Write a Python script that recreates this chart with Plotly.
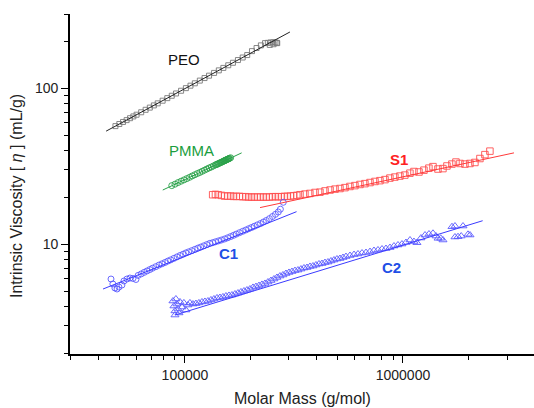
import math
import plotly.graph_objects as go

# ---------------- data ----------------
PEO_M = [48000, 50000, 52000, 54000, 56000, 58000, 60000, 63000, 66000, 69000, 72000, 75000,
         79000, 83000, 87000, 91000, 96000, 101000, 106000, 111000, 117000, 123000, 129000,
         136000, 143000, 150000, 158000, 166000, 175000, 184000, 193000, 203000, 213000,
         223000, 233000, 240000, 245000, 247000, 254000, 255000, 260000, 264000, 265000]
PEO_eta = [57.3, 59.1, 60.9, 62.6, 64.4, 66.1, 67.8, 70.3, 72.9, 75.3, 77.8, 80.2,
           83.4, 86.6, 89.7, 92.8, 96.6, 100.4, 104.1, 107.8, 112.2, 116.5, 120.7,
           125.7, 130.5, 135.3, 140.7, 146.0, 152.0, 157.8, 163.6, 173.4, 181.5,
           188.8, 195.2, 196.0, 190.0, 197.0, 197.5, 192.0, 197.0, 196.0, 195.0]
PEO_fit_M = [43500, 303000]
PEO_fit_eta = [53.2, 230.0]

PMMA_M = [87000, 90000, 93000, 96000, 99000, 102000, 105000, 108000, 111000, 114000, 117000,
          120000, 123000, 126000, 129000, 132000, 135000, 138000, 139500, 141000, 142500,
          144000, 145500, 147000, 148500, 150000, 151000, 152000, 153000, 154000, 155000,
          156000, 157000, 158000, 159000, 160000, 162000]
PMMA_eta = [23.8, 24.3, 24.9, 25.4, 25.9, 26.4, 26.9, 27.45, 27.95, 28.45, 28.9,
            29.4, 29.9, 30.4, 30.9, 31.3, 31.8, 32.3, 32.5, 32.7, 32.95,
            33.2, 33.4, 33.6, 33.85, 34.1, 34.25, 34.4, 34.55, 34.7, 34.85,
            35.0, 35.15, 35.3, 35.45, 35.6, 35.9]
PMMA_fit_M = [79100, 182000]
PMMA_fit_eta = [22.3, 38.6]

S1_M = [134000, 138000, 142000, 147000, 152000, 157000, 162000, 167000, 172000, 178000,
        184000, 190000, 196000, 202000, 208000, 215000, 222000, 229000, 236000, 244000,
        252000, 260000, 268000, 277000, 286000, 295000, 305000, 315000, 326000, 337000,
        355000, 374000, 395000, 416000, 439000, 463000, 488000, 514000, 542000, 571000,
        602000, 635000, 669000, 706000, 744000, 784000, 827000, 871000, 918000, 968000,
        1020000, 1076000, 1123000, 1184000, 1248000, 1315000, 1373000, 1447000, 1525000,
        1591000, 1677000, 1750000, 1825000, 1924000, 2028000, 2138000, 2254000, 2376000,
        2505000]
S1_eta = [20.8, 20.9, 20.8, 20.6, 20.4, 20.4, 20.4, 20.3, 20.3, 20.3,
          20.2, 20.2, 20.1, 20.1, 20.1, 20.1, 20.1, 20.1, 20.1, 20.1,
          20.2, 20.2, 20.2, 20.2, 20.3, 20.3, 20.4, 20.5, 20.6, 20.8,
          21.0, 21.2, 21.5, 21.6, 22.0, 22.3, 22.6, 22.8, 23.1, 23.5,
          23.8, 24.2, 24.5, 24.9, 25.3, 25.6, 26.0, 26.6, 27.0, 27.4,
          27.8, 28.6, 29.3, 29.1, 29.9, 30.8, 31.5, 30.4, 30.6,
          31.8, 32.7, 33.7, 33.0, 32.7, 33.0, 33.5, 35.5, 37.6,
          39.6]
S1_fit_M = [221000, 3230000]
S1_fit_eta = [17.2, 38.6]

C1_M = [45800, 46700, 47700, 48800, 49800, 51400, 52500, 54200, 55950, 57750, 59600,
        61000, 63000, 65000, 67000, 69000, 71000, 73500, 76000, 78500, 81000, 83500, 86000,
        89000, 92000, 95000, 98000, 101000, 104000, 107500, 111000, 114500, 118000, 122000,
        126000, 130000, 134000, 138000, 142500, 147000, 152000, 157000, 162000, 167000,
        172000, 178000, 184000, 190000, 196000, 202000, 208000, 215000, 222000, 229000,
        236000, 244000, 252000, 260000, 268000, 274000, 282500]
C1_eta = [5.99, 5.57, 5.25, 5.17, 5.32, 5.48, 5.82, 5.99, 6.08, 6.04, 5.95,
          6.32, 6.46, 6.61, 6.75, 6.89, 7.03, 7.19, 7.36, 7.50, 7.65, 7.81, 7.95,
          8.13, 8.31, 8.48, 8.64, 8.81, 8.95, 9.11, 9.28, 9.45, 9.60, 9.78,
          9.96, 10.14, 10.25, 10.38, 10.52, 10.66, 10.82, 11.01, 11.21, 11.42,
          11.63, 11.88, 12.12, 12.35, 12.59, 12.82, 13.06, 13.33, 13.59, 13.90,
          14.21, 14.61, 15.08, 15.57, 16.12, 16.8, 18.6]
C1_fit_M = [42100, 325000]
C1_fit_eta = [5.17, 16.2]

C2_M = [88100, 89000, 90000, 90000, 90900, 91900, 92900, 93900, 94900, 96900, 98900, 101000,
        103200, 105400,
        108800, 112300, 115900, 119700, 123500, 127500, 131600, 135800, 140300, 144700,
        149400, 154200, 159200, 164300, 169600, 175100, 180700, 186500, 192500, 198700,
        205100, 211700, 218500, 225500, 232800, 240300, 248000, 256000, 264200, 272800,
        281500, 290600, 300000, 309600, 319600, 329900, 340500, 351500, 362800, 374500,
        386600, 399000, 411900, 425100, 438800, 452900, 467500, 482600, 498100, 514000,
        530700, 547700, 571400, 596200, 621800, 648700, 676700, 705900, 736200, 768000,
        801300, 835600, 871700, 909300, 948500, 989500, 1032000, 1077000, 1123000, 1159000,
        1209000, 1262000, 1316000, 1373000, 1417000, 1448000, 1490000, 1526000, 1678000,
        1732000, 1732000, 1788000, 1850000, 1885000, 1987000, 2030000]
C2_eta = [4.33, 4.02, 3.74, 3.52, 4.46, 4.14, 3.85, 3.63, 4.27, 3.96, 4.21, 3.79,
          4.08, 4.21,
          4.14, 4.17, 4.21, 4.27, 4.30, 4.33, 4.40, 4.46, 4.53, 4.56,
          4.60, 4.66, 4.70, 4.73, 4.80, 4.87, 4.95, 5.02, 5.09, 5.17,
          5.29, 5.36, 5.44, 5.53, 5.61, 5.73, 5.86, 5.99, 6.13, 6.26,
          6.36, 6.50, 6.60, 6.69, 6.79, 6.84, 6.94, 7.05, 7.10, 7.21,
          7.26, 7.37, 7.48, 7.53, 7.64, 7.70, 7.82, 7.93, 8.05, 8.11,
          8.23, 8.35, 8.48, 8.60, 8.67, 8.79, 8.86, 8.99, 9.13, 9.20,
          9.33, 9.40, 9.54, 9.75, 9.90, 10.04, 10.27, 10.66, 10.42, 10.24,
          10.97, 11.47, 11.64, 11.77, 11.30, 10.93, 10.93, 10.66, 12.97,
          13.10, 11.14, 11.19, 11.30, 13.10, 11.59, 11.47]
C2_fit_M = [90000, 2320000]
C2_fit_eta = [3.52, 14.17]

# series labels: (text, M, eta, colour, bold)
LABELS = [
    ("PEO", 98900, 154.0, "#111111", False),
    ("PMMA", 107100, 40.2, "#1a9e3e", False),
    ("S1", 959000, 35.2, "#ff2222", True),
    ("C1", 158300, 8.67, "#1f4fe6", True),
    ("C2", 890000, 7.10, "#1f4fe6", True),
]

X_MAJOR = [1e5, 1e6]
X_MAJOR_TEXT = ["100000", "1000000"]
X_MINOR = [3e4, 4e4, 5e4, 6e4, 7e4, 8e4, 9e4, 2e5, 3e5, 4e5, 5e5, 6e5, 7e5, 8e5, 9e5, 2e6, 3e6, 4e6]
Y_MAJOR = [10, 100]
Y_MAJOR_TEXT = ["10", "100"]
Y_MINOR = [2, 3, 4, 5, 6, 7, 8, 9, 20, 30, 40, 50, 60, 70, 80, 90, 200, 300]

for a, b in [(PEO_M, PEO_eta), (PMMA_M, PMMA_eta), (S1_M, S1_eta), (C1_M, C1_eta), (C2_M, C2_eta)]:
    assert len(a) == len(b), (len(a), len(b))

# ---------------- figure ----------------
FONT = "Liberation Sans, Arial, sans-serif"
fig = go.Figure()

def add_series(M, eta, symbol, color, size, lw=0.9):
    fig.add_trace(go.Scatter(x=M, y=eta, mode="markers",
                             marker=dict(symbol=symbol, size=size, color=color,
                                         line=dict(color=color, width=lw)),
                             showlegend=False, hoverinfo="skip"))

def add_fit(M, eta, color):
    fig.add_trace(go.Scatter(x=M, y=eta, mode="lines",
                             line=dict(color=color, width=1),
                             showlegend=False, hoverinfo="skip"))

add_series(PEO_M, PEO_eta, "square-open", "#7a7a7a", 5)
add_series(PMMA_M, PMMA_eta, "circle-open", "#2aa14a", 6)
add_series(S1_M, S1_eta, "square-open", "#ff5050", 6.5)
add_series(C1_M, C1_eta, "circle-open", "#5a5aff", 6)
add_series(C2_M, C2_eta, "triangle-up-open", "#5a5aff", 7)

add_fit(PEO_fit_M, PEO_fit_eta, "#222222")
add_fit(PMMA_fit_M, PMMA_fit_eta, "#2aa14a")
add_fit(S1_fit_M, S1_fit_eta, "#ff3a3a")
add_fit(C1_fit_M, C1_fit_eta, "#3a3aff")
add_fit(C2_fit_M, C2_fit_eta, "#3a3aff")

for text, m, e, col, bold in LABELS:
    fig.add_annotation(x=math.log10(m), y=math.log10(e), xref="x", yref="y",
                       text=f"<b>{text}</b>" if bold else text, showarrow=False,
                       font=dict(family=FONT, size=15, color=col))

# axis titles
fig.add_annotation(x=0.5, y=-0.132, xref="paper", yref="paper",
                   text="Molar Mass (g/mol)", showarrow=False,
                   xanchor="center", yanchor="middle",
                   font=dict(family=FONT, size=16, color="#222222"))
fig.add_annotation(x=-0.114, y=0.465, xref="paper", yref="paper",
                   text="Intrinsic Viscosity [ <i>η</i> ] (mL/g)", showarrow=False,
                   textangle=-90, xanchor="center", yanchor="middle",
                   font=dict(family=FONT, size=16, color="#222222"))

axis_common = dict(type="log", showgrid=False, zeroline=False, showline=True,
                   linecolor="black", linewidth=1.6, ticks="outside", ticklen=7,
                   tickwidth=1.4, tickcolor="black", tickmode="array", automargin=False,
                   tickfont=dict(family=FONT, size=14, color="#222222"))

fig.update_xaxes(**axis_common, range=[math.log10(29700), math.log10(3.99e6)],
                 tickvals=X_MAJOR, ticktext=X_MAJOR_TEXT,
                 minor=dict(tickvals=X_MINOR, ticks="outside", ticklen=4, tickwidth=1.2,
                            tickcolor="black", showgrid=False))
fig.update_yaxes(**axis_common, range=[math.log10(1.98), math.log10(300)],
                 tickvals=Y_MAJOR, ticktext=Y_MAJOR_TEXT,
                 minor=dict(tickvals=Y_MINOR, ticks="outside", ticklen=4, tickwidth=1.2,
                            tickcolor="black", showgrid=False))

fig.update_layout(width=534, height=408, margin=dict(l=70, r=0, t=14, b=54),
                  plot_bgcolor="white", paper_bgcolor="white",
                  font=dict(family=FONT))

fig.write_html("out.html", config={"displayModeBar": False},
               post_script="document.body.style.margin='0';document.body.style.overflow='hidden';")
